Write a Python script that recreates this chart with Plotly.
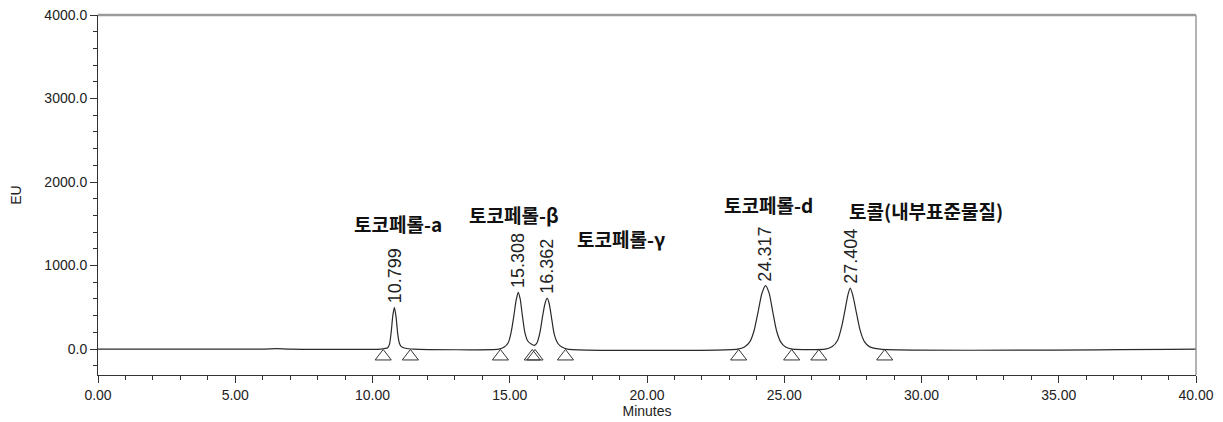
import plotly.graph_objects as go

# Chromatogram trace points (minutes, EU)
trace_time = [0.0, 6.0, 6.5, 7.0, 10.3, 10.55, 10.62, 10.68, 10.74, 10.799, 10.86, 10.92, 10.98, 11.05, 11.2, 11.5,
              14.6, 14.8, 14.95, 15.05, 15.15, 15.23, 15.308, 15.38, 15.46, 15.55, 15.65, 15.78, 15.9,
              16.0, 16.1, 16.2, 16.28, 16.362, 16.44, 16.52, 16.62, 16.75, 16.9, 17.1,
              23.3, 23.55, 23.75, 23.9, 24.05, 24.18, 24.317, 24.45, 24.58, 24.72, 24.88, 25.05, 25.3,
              26.5, 26.75, 26.95, 27.1, 27.22, 27.32, 27.404, 27.5, 27.62, 27.76, 27.92, 28.1, 28.5, 40.0]
trace_eu = [0, 0, 5, 0, 0, 15, 60, 200, 400, 500, 380, 180, 70, 30, 10, 0,
            0, 25, 80, 200, 400, 580, 680, 600, 400, 200, 100, 60, 45,
            80, 200, 400, 540, 610, 540, 380, 180, 70, 25, 0,
            0, 25, 90, 220, 450, 660, 760, 670, 450, 220, 80, 25, 0,
            0, 30, 110, 280, 480, 650, 730, 640, 450, 230, 90, 30, 0, 0]

# Peak apex retention times and heights
peak_rt = [10.799, 15.308, 16.362, 24.317, 27.404]
peak_height = [500, 680, 610, 760, 730]
peak_rt_labels = ["10.799", "15.308", "16.362", "24.317", "27.404"]

# Compound names and their label positions
compound_names = ["토코페롤-a", "토코페롤-β", "토코페롤-γ", "토코페롤-d", "토콜(내부표준물질)"]
name_x = [10.94, 15.14, 19.04, 24.43, 30.16]
name_y = [1500, 1610, 1330, 1730, 1665]

# Integration marks (peak start / end)
mark_time = [10.39, 11.38, 14.66, 15.82, 15.92, 17.03, 23.34, 25.27, 26.26, 28.66]

fig = go.Figure()
fig.add_trace(go.Scatter(x=trace_time, y=trace_eu, mode="lines",
                         line=dict(color="#2a2a2a", width=1.2, shape="spline", smoothing=0.6),
                         showlegend=False, hoverinfo="skip"))
fig.add_trace(go.Scatter(x=mark_time, y=[-88] * len(mark_time), mode="markers",
                         marker=dict(symbol="triangle-up-open", size=14,
                                     color="#333333", line=dict(width=1, color="#333333")),
                         showlegend=False, hoverinfo="skip"))

for rt, h, lab in zip(peak_rt, peak_height, peak_rt_labels):
    fig.add_annotation(x=rt, y=h, xref="x", yref="y", text=lab, textangle=-90,
                       showarrow=False, yanchor="bottom", xanchor="center", yshift=2,
                       font=dict(family="Liberation Sans, Arial", size=18, color="#222222"))

for nm, nx, ny in zip(compound_names, name_x, name_y):
    fig.add_annotation(x=nx, y=ny, xref="x", yref="y", text="<b>" + nm + "</b>",
                       showarrow=False, xanchor="center", yanchor="middle",
                       font=dict(family="Noto Sans CJK KR", size=19, color="#111111"))

fig.update_xaxes(range=[0, 40], tickmode="linear", tick0=0, dtick=5, tickformat=".2f",
                 ticks="outside", ticklen=7, tickcolor="#333", showline=True,
                 linecolor="#333", linewidth=1, showgrid=False, zeroline=False, automargin=False,
                 ticklabeloverflow="allow",
                 minor=dict(dtick=1, ticks="outside", ticklen=4, tickcolor="#333"),
                 title=dict(text="Minutes", font=dict(family="Liberation Sans, Arial", size=14, color="#222"), standoff=2),
                 tickfont=dict(family="Liberation Sans Narrow, Liberation Sans, Arial", size=14, color="#222"))
fig.update_yaxes(range=[-310, 4000], tickmode="array", tickvals=[0, 1000, 2000, 3000, 4000],
                 ticktext=["0.0", "1000.0", "2000.0", "3000.0", "4000.0"],
                 ticks="outside", ticklen=7, tickcolor="#333", showline=True,
                 linecolor="#333", linewidth=1, showgrid=False, zeroline=False, automargin=False,
                 ticklabeloverflow="allow",
                 minor=dict(tickvals=[-200, 200, 400, 600, 800, 1200, 1400, 1600, 1800, 2200, 2400, 2600, 2800,
                                      3200, 3400, 3600, 3800],
                            ticks="outside", ticklen=4, tickcolor="#333"),
                 title=dict(text="EU", font=dict(family="Liberation Sans, Arial", size=14, color="#222"), standoff=22),
                 tickfont=dict(family="Liberation Sans, Arial", size=14, color="#222"))

# top and right gray frame
fig.add_shape(type="line", xref="paper", yref="paper", x0=0, x1=1, y0=1, y1=1,
              line=dict(color="#9a9a9a", width=2.5))
fig.add_shape(type="line", xref="paper", yref="paper", x0=1, x1=1, y0=0, y1=1,
              line=dict(color="#9a9a9a", width=1.5))

# page body has an 8px margin: compensate so the plot area lands where it does in the reference
fig.update_layout(width=1215, height=414, margin=dict(l=90, r=27, t=7, b=47),
                  paper_bgcolor="white", plot_bgcolor="white")
fig.write_html("out.html")
